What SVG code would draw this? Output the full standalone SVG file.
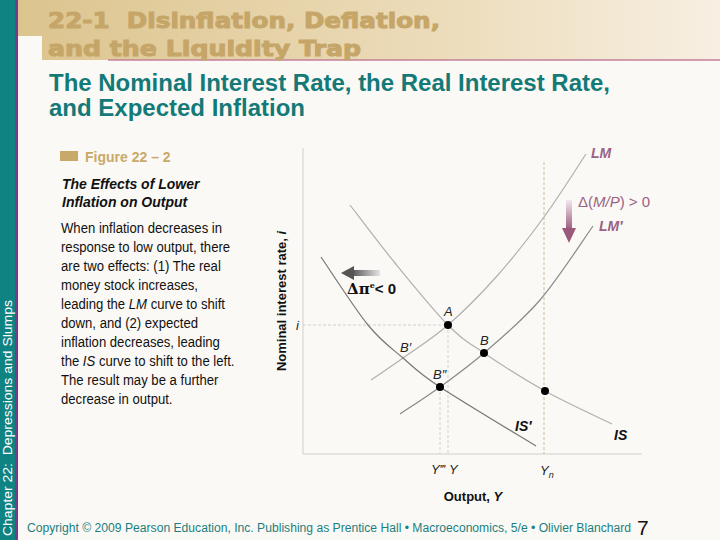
<svg xmlns="http://www.w3.org/2000/svg" width="720" height="540" viewBox="0 0 720 540">
<defs>
<linearGradient id="hdr" x1="0" y1="0" x2="1" y2="0">
<stop offset="0" stop-color="#dcc48e"/>
<stop offset="0.6" stop-color="#ecdcba"/>
<stop offset="1" stop-color="#f7efe2"/>
</linearGradient>
<linearGradient id="gDown" x1="0" y1="0" x2="0" y2="1">
<stop offset="0" stop-color="#f2e8ee"/>
<stop offset="1" stop-color="#9a5a7c"/>
</linearGradient>
<linearGradient id="gLeft" x1="1" y1="0" x2="0" y2="0">
<stop offset="0" stop-color="#e4e4e4"/>
<stop offset="1" stop-color="#555"/>
</linearGradient>
<style>
.ax{stroke:#cfcfcf;stroke-width:1;fill:none}
.dash{stroke:#cdbba0;stroke-width:1;stroke-dasharray:3,2;fill:none}
.dashg{stroke:#d0d0d0;stroke-width:1;stroke-dasharray:3,2;fill:none}
.cv{fill:none;stroke-width:1.2}
.dot{fill:#000}
.lbl{font-family:"Liberation Sans",Arial,sans-serif;font-style:italic;font-size:13px;fill:#222}
.cl{font-family:"Liberation Sans",Arial,sans-serif;font-style:italic;font-weight:bold;font-size:14px}
.body{font-family:"Liberation Sans",Arial,sans-serif;font-size:15px;fill:#111}
.ttl{font-family:"DejaVu Sans",Verdana,sans-serif;font-weight:bold;font-size:21px;fill:#c6a668;stroke:#c6a668;stroke-width:1}
</style>
</defs>
<rect width="720" height="540" fill="#fbf9f5"/>
<rect x="18" y="0" width="702" height="60" fill="url(#hdr)"/>
<rect x="18" y="36" width="24" height="25" fill="#fbf9f5"/>
<line x1="108" y1="60" x2="720" y2="60" stroke="#c47f9a" stroke-width="1.5"/>
<rect x="0" y="0" width="15" height="540" fill="#0f8282"/>
<rect x="15" y="0" width="3" height="540" fill="#7a3a8c"/>
<text transform="translate(12,536) rotate(-90)" font-family="Liberation Sans,Arial,sans-serif" font-size="13" fill="#ffffff" textLength="236" lengthAdjust="spacingAndGlyphs" xml:space="preserve">Chapter 22:  Depressions and Slumps</text>

<g id="title">
<text class="ttl" x="48" y="28" textLength="392" lengthAdjust="spacingAndGlyphs" xml:space="preserve">22-1  Disinflation, Deflation,</text>
<text class="ttl" x="48" y="56" textLength="313" lengthAdjust="spacingAndGlyphs">and the Liquidity Trap</text>
</g>
<g id="subtitle" font-family="Liberation Sans,Arial,sans-serif" font-weight="bold" font-size="23" fill="#137a78">
<text x="49" y="91" textLength="561" lengthAdjust="spacingAndGlyphs">The Nominal Interest Rate, the Real Interest Rate,</text>
<text x="49" y="116" textLength="256" lengthAdjust="spacingAndGlyphs">and Expected Inflation</text>
</g>

<g id="caption">
<rect x="60" y="151" width="18" height="10" fill="#c9a96a"/>
<text x="85" y="162" font-family="Liberation Sans,Arial,sans-serif" font-weight="bold" font-size="14" fill="#c9a96a">Figure 22 – 2</text>
<text x="62" y="189" font-family="Liberation Sans,Arial,sans-serif" font-weight="bold" font-style="italic" font-size="14" fill="#111">The Effects of Lower</text>
<text x="62" y="207" font-family="Liberation Sans,Arial,sans-serif" font-weight="bold" font-style="italic" font-size="14" fill="#111">Inflation on Output</text>
<g transform="translate(61,0) scale(0.875,1)">
<text class="body" x="0" y="233">When inflation decreases in</text>
<text class="body" x="0" y="252">response to low output, there</text>
<text class="body" x="0" y="271">are two effects: (1) The real</text>
<text class="body" x="0" y="290">money stock increases,</text>
<text class="body" x="0" y="309">leading the <tspan font-style="italic">LM</tspan> curve to shift</text>
<text class="body" x="0" y="328">down, and (2) expected</text>
<text class="body" x="0" y="347">inflation decreases, leading</text>
<text class="body" x="0" y="366">the <tspan font-style="italic">IS</tspan> curve to shift to the left.</text>
<text class="body" x="0" y="385">The result may be a further</text>
<text class="body" x="0" y="404">decrease in output.</text>
</g>
</g>

<g id="axes">
<line class="ax" x1="303" y1="148" x2="303" y2="454"/>
<line class="ax" x1="303" y1="454" x2="642" y2="454"/>
<text transform="translate(286,301) rotate(-90)" text-anchor="middle" font-family="Liberation Sans,Arial,sans-serif" font-weight="bold" font-size="13" fill="#111">Nominal interest rate, <tspan font-style="italic">i</tspan></text>
<text x="473" y="501" text-anchor="middle" font-family="Liberation Sans,Arial,sans-serif" font-weight="bold" font-size="13" fill="#111">Output, <tspan font-style="italic">Y</tspan></text>
<text class="lbl" x="296" y="330">i</text>
<text class="lbl" x="431" y="474">Y‴</text>
<text class="lbl" x="449" y="474">Y</text>
<text class="lbl" x="540" y="475">Y<tspan font-size="9" dy="3">n</tspan></text>
</g>

<g id="connectors">
<line class="dashg" x1="303" y1="325" x2="448" y2="325"/>
<line class="dashg" x1="448" y1="325" x2="448" y2="454"/>
<line class="dashg" x1="440" y1="387" x2="440" y2="454"/>
<line class="dash" x1="544" y1="162" x2="544" y2="454"/>
</g>

<g id="curve-LM">
<path class="cv" stroke="#b0b0b0" d="M371,380 C376.3,376.3 390.2,367.2 403,358 C415.8,348.8 432.3,338.7 448,325 C463.7,311.3 481,294 497,276 C513,258 529.2,237.3 544,217 C558.8,196.7 579,164.5 586,154"/>
<text class="cl" x="591" y="158" fill="#9a6283">LM</text>
</g>
<g id="curve-LM2">
<path class="cv" stroke="#8a8a8a" d="M400,414 C406.7,409.5 426,397.2 440,387 C454,376.8 467.3,367.5 484,353 C500.7,338.5 521.8,321.2 540,300 C558.2,278.8 584.2,238.3 593,226"/>
<text class="cl" x="599" y="231" fill="#9a6283">LM′</text>
</g>
<g id="curve-IS">
<path class="cv" stroke="#b0b0b0" d="M350,205 C357.5,214.7 378.7,243 395,263 C411.3,283 433.2,310 448,325 C462.8,340 467.8,342 484,353 C500.2,364 523.7,379.2 545,391 C566.3,402.8 600.8,418.5 612,424"/>
<text class="cl" x="614" y="440" fill="#111">IS</text>
</g>
<g id="curve-IS2">
<path class="cv" stroke="#777" d="M321,257 C328.8,268.3 354.3,308.2 368,325 C381.7,341.8 391,347.7 403,358 C415,368.3 417.8,372.3 440,387 C462.2,401.7 520,436.2 536,446"/>
<text class="cl" x="515" y="431" fill="#111">IS′</text>
</g>

<g id="points">
<circle class="dot" cx="448" cy="325" r="4"/>
<circle class="dot" cx="484" cy="353" r="4"/>
<circle class="dot" cx="440" cy="387" r="4"/>
<circle class="dot" cx="545" cy="391" r="4"/>
<text class="lbl" x="444" y="316">A</text>
<text class="lbl" x="480" y="345">B</text>
<text class="lbl" x="400" y="352">B′</text>
<text class="lbl" x="433" y="379">B″</text>
</g>

<g id="shift-LM">
<rect x="566" y="200" width="6" height="30" fill="url(#gDown)"/>
<polygon points="562,228 576,228 569,243" fill="#9a5a7c"/>
<text x="578" y="207" font-family="Liberation Sans,Arial,sans-serif" font-size="15" fill="#9a6283">Δ(<tspan font-style="italic">M/P</tspan>) &gt; 0</text>
</g>
<g id="shift-IS">
<rect x="352" y="270" width="28" height="6" fill="url(#gLeft)"/>
<polygon points="354,266 354,280 341,273" fill="#555"/>
<text x="347" y="294" font-family="DejaVu Serif,Liberation Serif,serif" font-weight="bold" font-size="15" fill="#111">Δπ<tspan font-size="8" dy="-6">e</tspan><tspan dy="6" font-family="Liberation Sans,Arial,sans-serif">&lt; 0</tspan></text>
</g>

<g id="footer">
<text x="27" y="532" font-family="Liberation Sans,Arial,sans-serif" font-size="12" fill="#1a7f80" textLength="604" lengthAdjust="spacingAndGlyphs">Copyright © 2009 Pearson Education, Inc. Publishing as Prentice Hall  •  Macroeconomics, 5/e  •  Olivier Blanchard</text>
<text x="637" y="535" font-family="Liberation Sans,Arial,sans-serif" font-size="21" fill="#111">7</text>
</g>
</svg>
